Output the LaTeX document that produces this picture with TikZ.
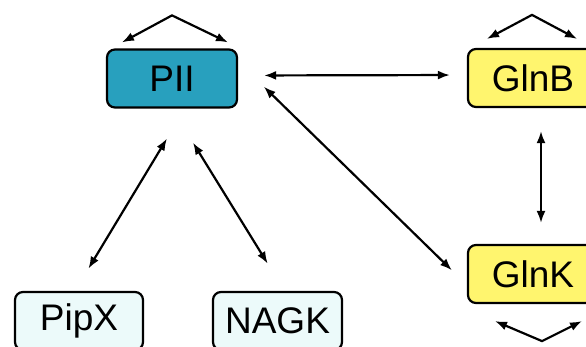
\documentclass[tikz,border=0pt]{standalone}
\usepackage{fontspec}
\setmainfont{Liberation Sans}
\usetikzlibrary{arrows.meta}
\definecolor{piiblue}{RGB}{40,160,190}
\definecolor{glnyellow}{RGB}{255,245,110}
\definecolor{paleblue}{RGB}{236,250,250}
\begin{document}
\begin{tikzpicture}[x=1pt, y=1pt, >={Latex[length=12pt,width=9pt]},
  prot/.style={draw=black, line width=2.2pt, rounded corners=8pt, minimum width=130pt, minimum height=58pt, inner sep=0pt, font=\fontsize{37}{40}\selectfont},
  link/.style={<->, line width=2.2pt}]
\useasboundingbox (0,0) rectangle (586,346);
\clip (0,0) rectangle (586,346);
% proteins
\node[prot, fill=piiblue] (PII) at (172,267.5) {PII};
\node[prot, fill=glnyellow] (GlnB) at (533,268) {GlnB};
\node[prot, fill=glnyellow] (GlnK) at (533,72) {GlnK};
\node[prot, fill=paleblue, minimum width=128pt] (PipX) at (79,25) {PipX};
\node[prot, fill=paleblue, minimum width=129pt] (NAGK) at (277.5,25) {NAGK};
% self interactions
\draw[link] ([shift={(-50,6)}]PII.north) -- ([yshift=33]PII.north) -- ([shift={(56,6)}]PII.north);
\draw[link] ([shift={(-46,9)}]GlnB.north) -- ([shift={(-1,33)}]GlnB.north) -- ([shift={(44,9)}]GlnB.north);
\draw[link] ([shift={(-38,-17)}]GlnK.south) -- ([shift={(9,-37)}]GlnK.south) -- ([shift={(49,-17)}]GlnK.south);
% PII partners
\draw[link, shorten <=26pt, shorten >=17pt] ([yshift=3]PII.east) -- ([yshift=3]GlnB.west);
\draw[link, shorten <=36pt, shorten >=21pt] ([yshift=17]PII.east) -- ([yshift=-11]GlnK.west);
\draw[link, shorten <=35pt, shorten >=26pt] ([xshift=13]PII.south) -- ([xshift=-4]PipX.north);
\draw[link, shorten <=40pt, shorten >=32pt] (PII.south) -- ([xshift=7]NAGK.north);
% GlnB - GlnK
\draw[link, shorten <=23pt, shorten >=21pt] ([xshift=8]GlnB.south) -- ([xshift=8]GlnK.north);
\end{tikzpicture}
\end{document}
